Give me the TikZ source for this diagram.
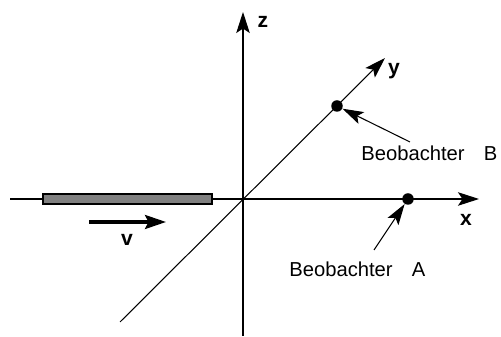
\documentclass[tikz,border=0pt]{standalone}
\usepackage{fontspec}
\setmainfont{Liberation Sans}
\usetikzlibrary{arrows.meta}
\tikzset{
  axis/.style={line width=0.6pt, -{Stealth[length=4.2mm, width=2.7mm, inset=0.9mm]}},
  pointer/.style={line width=0.6pt, -{Stealth[length=4.2mm, width=2.6mm, inset=0.9mm]}},
  observer/.style={circle, fill=black, inner sep=0pt, minimum size=2.3mm},
  axislabel/.style={font=\bfseries\fontsize{12}{14}\selectfont, inner sep=1pt},
  caption/.style={font=\fontsize{11.5}{14}\selectfont, inner sep=0pt}
}
\begin{document}
\begin{tikzpicture}[x={(0.02cm,0)}, y={(0,-0.02cm)}]
  \useasboundingbox (0,0) rectangle (501,337);
  % axes
  \coordinate (origin) at (243,199);
  \coordinate (xstart) at (10,199);
  \coordinate (xend) at (479,199);
  \coordinate (zstart) at (243,336);
  \coordinate (zend) at (243,12);
  \coordinate (ystart) at (120,322);
  \coordinate (yend) at (385,58);
  \draw[axis] (xstart) -- (xend);
  \draw[axis] (zstart) -- (zend);
  \draw[axis] (ystart) -- (yend);
  \node[axislabel] (xlabel) at (466,220) {x};
  \node[axislabel] (ylabel) at (394,71) {y};
  \node[axislabel] (zlabel) at (263,22) {z};
  % moving rod
  \draw[fill=black!50, line width=0.6pt] (43,194) rectangle (212,204);
  \coordinate (vstart) at (89,222);
  \coordinate (vend) at (166,222);
  \draw[line width=1.8pt, -{Stealth[length=4.2mm, width=2.8mm, inset=0.7mm]}] (vstart) -- (vend);
  \node[axislabel] (vlabel) at (127,240) {v};
  % observers
  \node[observer] (obsB) at (337,106) {};
  \node[observer] (obsA) at (408,199) {};
  \node[caption, anchor=base west] (textB) at (361,161) {Beobachter\hspace{11pt}B};
  \node[caption, anchor=base west] (textA) at (289,277) {Beobachter\hspace{11pt}A};
  \coordinate (fromB) at (410,142);
  \coordinate (fromA) at (374,250);
  \draw[pointer] (fromB) -- (obsB);
  \draw[pointer] (fromA) -- (obsA);
\end{tikzpicture}
\end{document}
